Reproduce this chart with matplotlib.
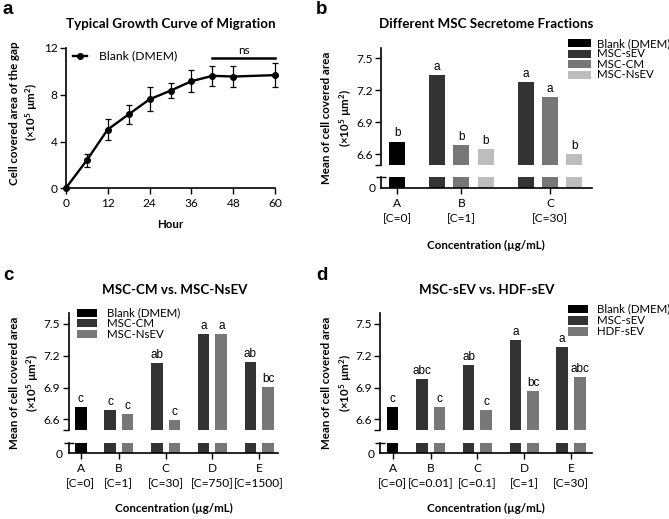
import matplotlib
matplotlib.use("Agg")
import matplotlib.pyplot as plt
from matplotlib.patches import Rectangle
from matplotlib.lines import Line2D

# ---------------- data ----------------
hours = [0, 6, 12, 18, 24, 30, 36, 42, 48, 60]
area_mean = [0, 2.38, 5.02, 6.32, 7.61, 8.35, 9.16, 9.62, 9.56, 9.68]
area_err = [0, 0.53, 0.93, 0.79, 1.03, 0.66, 0.93, 0.85, 0.93, 1.03]

b_cats = ["A\n[C=0]", "B\n[C=1]", "C\n[C=30]"]
b_blank = [6.718]
b_sev = [7.345, 7.280]
b_cm = [6.686, 7.133]
b_nsev = [6.647, 6.597]
b_blank_let = ["b"]
b_sev_let = ["a", "a"]
b_cm_let = ["b", "a"]
b_nsev_let = ["b", "b"]

c_cats = ["A\n[C=0]", "B\n[C=1]", "C\n[C=30]", "D\n[C=750]", "E\n[C=1500]"]
c_blank = [6.717]
c_cm = [6.687, 7.132, 7.403, 7.137]
c_nsev = [6.647, 6.590, 7.406, 6.908]
c_blank_let = ["c"]
c_cm_let = ["c", "ab", "a", "ab"]
c_nsev_let = ["c", "c", "a", "bc"]

d_cats = ["A\n[C=0]", "B\n[C=0.01]", "C\n[C=0.1]", "D\n[C=1]", "E\n[C=30]"]
d_blank = [6.717]
d_sev = [6.982, 7.109, 7.345, 7.279]
d_hdf = [6.717, 6.688, 6.868, 6.998]
d_blank_let = ["c"]
d_sev_let = ["abc", "ab", "a", "a"]
d_hdf_let = ["c", "c", "bc", "abc"]

upper_ticks = [6.6, 6.9, 7.2, 7.5]

# ---------------- style ----------------
W, H = 669, 519
plt.rcParams["font.family"] = ["Lato", "DejaVu Sans"]
plt.rcParams["font.size"] = 8
plt.rcParams["mathtext.fontset"] = "custom"
plt.rcParams["mathtext.rm"] = "Lato"
plt.rcParams["mathtext.it"] = "Lato:italic"
plt.rcParams["mathtext.bf"] = "Lato:bold"
ARIAL = ["Liberation Sans", "DejaVu Sans"]
BLACK = "#000000"
DARK = "#333333"
MID = "#777777"
LIGHT = "#bdbdbd"
SPW = 1.2
TICKFS = 8.6
TITLEFS = 9.6
LABFS = 8.3
LEGFS = 8.3
UNIT = r"(×10$^{\mathbf{5}}$ µm$^{\mathbf{2}}$)"

fig = plt.figure(figsize=(W / 100, H / 100), dpi=100)


def axpx(l, t, r, b):
    return fig.add_axes([l / W, 1 - b / H, (r - l) / W, (b - t) / H])


def ftext(x, y, s, **kw):
    return fig.text(x / W, 1 - y / H, s, **kw)


def legend_px(items, x0, ys, w, h, tx, fs=LEGFS):
    for (col, lab), y in zip(items, ys):
        fig.add_artist(Rectangle((x0 / W, 1 - (y + h / 2) / H), w / W, h / H,
                                 transform=fig.transFigure, color=col, lw=0))
        ftext(tx, y, lab, ha="left", va="center", fontsize=fs)


def ylabel2(x1, x2, y, fs=LABFS):
    ftext(x1, y, "Mean of cell covered area", rotation=90, ha="center",
          va="center", fontsize=fs, fontweight="bold")
    ftext(x2, y, UNIT, rotation=90, ha="center", va="center",
          fontsize=fs, fontweight="bold")


def group_positions(sizes, gap=1.65):
    pos = []
    cur = 0.0
    for i, n in enumerate(sizes):
        if i > 0:
            cur = pos[-1][-1] + gap
        pos.append([cur + j for j in range(n)])
    return pos


def bar_panel(up_box, low_box, xlim, cats, series, sizes):
    axu = axpx(*up_box)
    axl = axpx(*low_box)
    pos = group_positions(sizes)
    for vals, col, lets, gidx, slot in series:
        xs = [pos[g][slot] for g in gidx]
        for ax in (axu, axl):
            ax.bar(xs, vals, width=0.66, color=col, linewidth=0)
        for x, v, lt in zip(xs, vals, lets):
            axu.annotate(lt, (x, v), xytext=(0, 1.5), textcoords="offset points",
                         ha="center", va="bottom", fontsize=8.5, family=ARIAL,
                         annotation_clip=False)
    for ax in (axu, axl):
        ax.set_xlim(*xlim)
        for s in ("top", "right"):
            ax.spines[s].set_visible(False)
        ax.spines["left"].set_linewidth(SPW)
        ax.spines["bottom"].set_linewidth(SPW)
        ax.patch.set_alpha(0)
    axu.spines["bottom"].set_visible(False)
    axu.set_ylim(6.5, 7.6)
    axu.set_yticks(upper_ticks)
    axu.set_yticklabels([f"{t:.1f}" for t in upper_ticks])
    axu.set_yticks([6.5], minor=True)
    axu.tick_params(axis="y", which="both", direction="out", length=4, width=1,
                    labelsize=TICKFS, pad=2)
    axu.tick_params(axis="x", bottom=False, labelbottom=False)
    axl.set_ylim(0, 1)
    axl.set_yticks([0])
    axl.set_yticklabels(["0"])
    axl.set_yticks([1], minor=True)
    axl.tick_params(axis="y", which="major", length=0, labelsize=TICKFS, pad=4)
    axl.tick_params(axis="y", which="minor", direction="inout", length=7, width=1)
    centers = [sum(p) / len(p) for p in pos]
    axl.set_xticks(centers)
    axl.set_xticklabels(cats, linespacing=1.45)
    axl.tick_params(axis="x", direction="out", length=4, width=1,
                    labelsize=TICKFS, pad=3)
    return axu, axl


# ---------------- panel a ----------------
axa = axpx(65.7, 48.0, 275.3, 188.3)
axa.errorbar(hours, area_mean, yerr=area_err, color="black", lw=1.7,
             marker="o", ms=4, capsize=2.4, elinewidth=0.9, capthick=0.9,
             clip_on=False, zorder=3)
axa.set_xlim(0, 60)
axa.set_ylim(0, 12)
axa.set_xticks([0, 12, 24, 36, 48, 60])
axa.set_yticks([0, 4, 8, 12])
for s in ("top", "right"):
    axa.spines[s].set_visible(False)
for s in ("left", "bottom"):
    axa.spines[s].set_linewidth(SPW)
axa.tick_params(direction="out", length=4, width=1, labelsize=TICKFS, pad=2)
axa.tick_params(axis="x", pad=3)
axa.plot([hours[7], hours[-1]], [11.14, 11.14], color="black", lw=1.8,
         clip_on=False)
axa.text((hours[7] + hours[-1]) / 2, 11.35, "ns", ha="center", va="bottom",
         fontsize=8.5)
fig.add_artist(Line2D([72.7 / W, 87.3 / W], [1 - 56 / H, 1 - 56 / H],
                      color="black", lw=1.7))
fig.add_artist(Line2D([80 / W], [1 - 56 / H], color="black", marker="o", ms=4,
                      lw=0))
ftext(99.3, 56, "Blank (DMEM)", ha="left", va="center", fontsize=8.7)
ftext(170.5, 24, "Typical Growth Curve of Migration", ha="center",
      va="center", fontsize=TITLEFS, fontweight="bold")
ftext(170.5, 225, "Hour", ha="center", va="center", fontsize=LABFS,
      fontweight="bold")
ftext(14.2, 113, "Cell covered area of the gap", rotation=90, ha="center",
      va="center", fontsize=LABFS, fontweight="bold")
ftext(32, 112, UNIT, rotation=90, ha="center", va="center",
      fontsize=LABFS, fontweight="bold")

# ---------------- panel b ----------------
bar_panel((381, 47.7, 591.7, 164.7), (381, 177, 591.7, 188), (-0.668, 8.02),
          b_cats,
          [(b_blank, BLACK, b_blank_let, [0], 0),
           (b_sev, DARK, b_sev_let, [1, 2], 0),
           (b_cm, MID, b_cm_let, [1, 2], 1),
           (b_nsev, LIGHT, b_nsev_let, [1, 2], 2)],
          [1, 3, 3])
ftext(486.3, 24, "Different MSC Secretome Fractions", ha="center",
      va="center", fontsize=TITLEFS, fontweight="bold")
ftext(486.3, 245.7, "Concentration (µg/mL)", ha="center", va="center",
      fontsize=LABFS, fontweight="bold")
ylabel2(326.7, 345.5, 117.5)
legend_px([(BLACK, "Blank (DMEM)"), (DARK, "MSC-sEV"), (MID, "MSC-CM"),
           (LIGHT, "MSC-NsEV")], 568, [43.3, 53.8, 64.3, 74.8], 23, 8.3, 596.7)

# ---------------- panel c ----------------
bar_panel((68.5, 313.3, 278.3, 430), (68.5, 442.7, 278.3, 453.3), (-0.70, 11.18),
          c_cats,
          [(c_blank, BLACK, c_blank_let, [0], 0),
           (c_cm, DARK, c_cm_let, [1, 2, 3, 4], 0),
           (c_nsev, MID, c_nsev_let, [1, 2, 3, 4], 1)],
          [1, 2, 2, 2, 2])
ftext(175, 290, "MSC-CM vs. MSC-NsEV", ha="center", va="center",
      fontsize=TITLEFS, fontweight="bold")
ftext(173.4, 508, "Concentration (µg/mL)", ha="center", va="center",
      fontsize=LABFS, fontweight="bold")
ylabel2(14.2, 32.5, 383)
legend_px([(BLACK, "Blank (DMEM)"), (DARK, "MSC-CM"), (MID, "MSC-NsEV")],
          77.3, [312.7, 323.3, 334], 19.4, 8.3, 106.7)

# ---------------- panel d ----------------
bar_panel((380, 313.3, 591.7, 430), (380, 442.7, 591.7, 453.3), (-0.71, 11.27),
          d_cats,
          [(d_blank, BLACK, d_blank_let, [0], 0),
           (d_sev, DARK, d_sev_let, [1, 2, 3, 4], 0),
           (d_hdf, MID, d_hdf_let, [1, 2, 3, 4], 1)],
          [1, 2, 2, 2, 2])
ftext(487, 290, "MSC-sEV vs. HDF-sEV", ha="center", va="center",
      fontsize=TITLEFS, fontweight="bold")
ftext(485.8, 508, "Concentration (µg/mL)", ha="center", va="center",
      fontsize=LABFS, fontweight="bold")
ylabel2(326.7, 345.5, 383)
legend_px([(BLACK, "Blank (DMEM)"), (DARK, "MSC-sEV"), (MID, "HDF-sEV")],
          568, [309, 320.5, 331.5], 20, 8.3, 596.7)

# panel letters
for lt, (x, y) in zip("abcd", [(8, 10), (322, 10), (8, 276), (322, 276)]):
    ftext(x, y, lt, ha="center", va="center", fontsize=13.5,
          fontweight="bold", family=ARIAL)

fig.savefig("out.png", dpi=100)
